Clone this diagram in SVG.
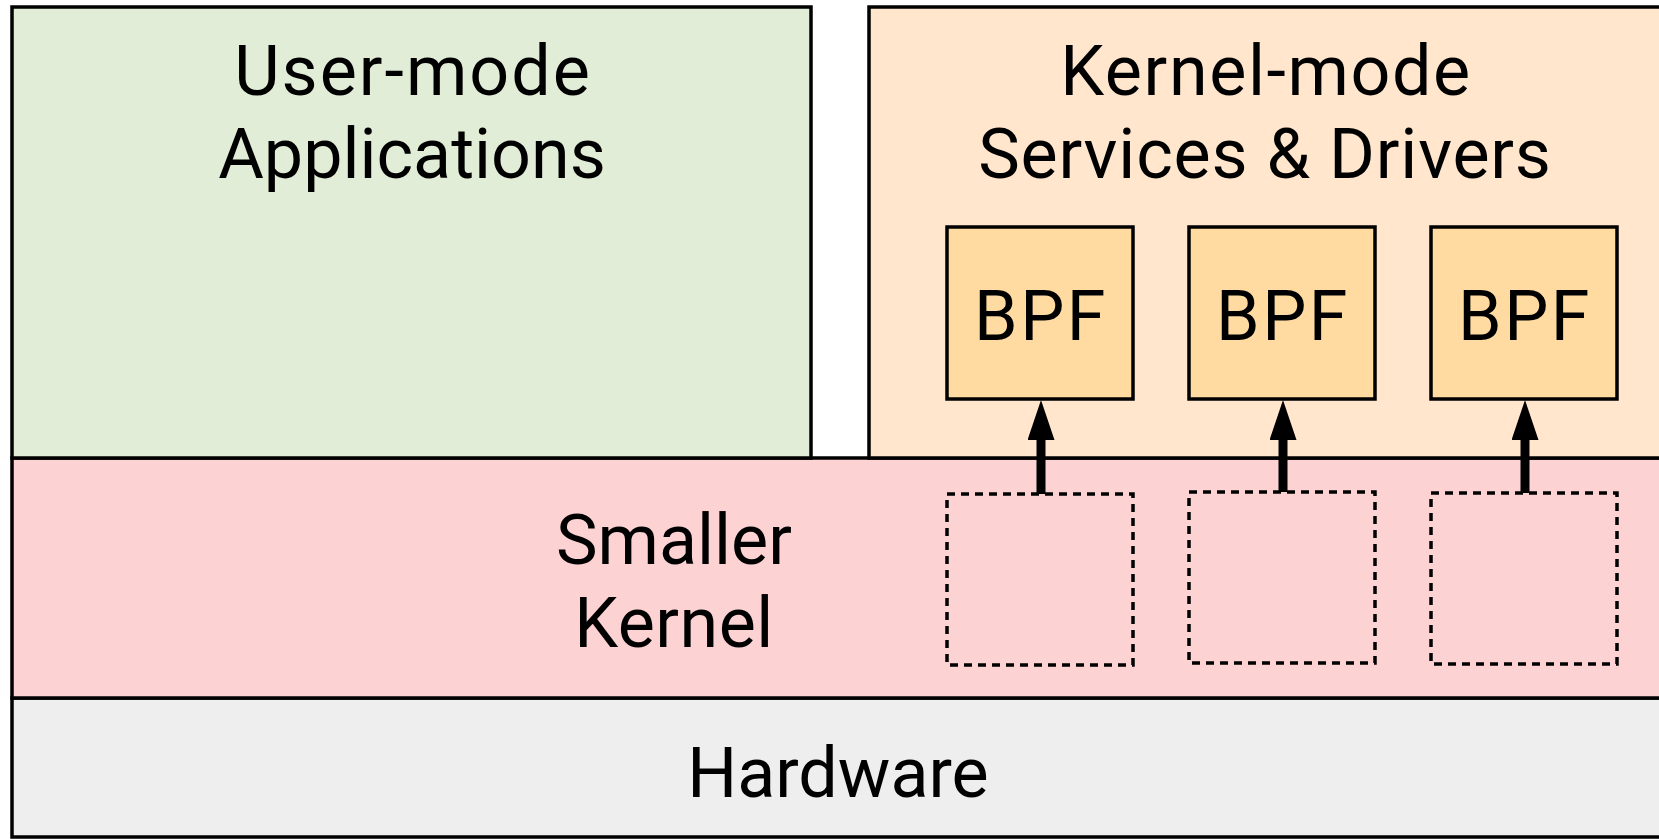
<svg xmlns="http://www.w3.org/2000/svg" width="1659" height="839" viewBox="0 0 1659 839">
  <style>
    .box { stroke: #000; stroke-width: 3.5; }
    .label { font-family: Roboto, "Liberation Sans", sans-serif; font-size: 70px; fill: #000; text-anchor: middle; }
    .slot { fill: none; stroke: #000; stroke-width: 3.5; stroke-dasharray: 8 6; }
    .link { stroke: #000; stroke-width: 9; fill: none; }
  </style>
  <defs>
    <!-- arrowhead drawn along +x, starting where the shaft ends -->
    <marker id="head" viewBox="0 0 40 27" refX="0" refY="13.5" markerWidth="40" markerHeight="27" markerUnits="userSpaceOnUse" orient="auto">
      <path d="M0,0 L40,13.5 L0,27 Z" fill="#000"/>
    </marker>
  </defs>
  <rect width="1659" height="839" fill="#fff"/>

  <g id="hardware">
    <rect class="box" x="12" y="698" width="1660" height="139" fill="#eeeeee"/>
    <text class="label" x="838" y="797">Hardware</text>
  </g>

  <g id="kernel">
    <rect class="box" x="12" y="458" width="1660" height="240" fill="#fcd2d3"/>
    <text class="label" x="674" y="564">Smaller</text>
    <text class="label" x="674" y="647" letter-spacing="0.5">Kernel</text>
  </g>

  <g id="user-mode">
    <rect class="box" x="12" y="7" width="799" height="451" fill="#e1edd6"/>
    <text class="label" x="413" y="95" letter-spacing="2">User-mode</text>
    <text class="label" x="412" y="178">Applications</text>
  </g>

  <g id="kernel-mode">
    <rect class="box" x="869" y="7" width="803" height="451" fill="#ffe6cd"/>
    <text class="label" x="1266" y="95" letter-spacing="1.6">Kernel-mode</text>
    <text class="label" x="1265" y="178" letter-spacing="0.8">Services &amp; Drivers</text>
  </g>

  <g id="bpf-1">
    <rect class="box" x="947" y="227" width="186" height="172" fill="#ffdba2"/>
    <text class="label" x="1041" y="340" letter-spacing="2.5">BPF</text>
  </g>
  <g id="bpf-2">
    <rect class="box" x="1189" y="227" width="186" height="172" fill="#ffdba2"/>
    <text class="label" x="1283" y="340" letter-spacing="2.5">BPF</text>
  </g>
  <g id="bpf-3">
    <rect class="box" x="1431" y="227" width="186" height="172" fill="#ffdba2"/>
    <text class="label" x="1525" y="340" letter-spacing="2.5">BPF</text>
  </g>

  <g id="hook-1"><rect class="slot" x="947" y="494" width="186" height="171"/></g>
  <g id="hook-2"><rect class="slot" x="1189" y="492" width="186" height="171"/></g>
  <g id="hook-3"><rect class="slot" x="1431" y="493" width="186" height="171"/></g>

  <g id="connectors">
    <line class="link" x1="1041" y1="494" x2="1041" y2="440" marker-end="url(#head)"/>
    <line class="link" x1="1283" y1="492" x2="1283" y2="440" marker-end="url(#head)"/>
    <line class="link" x1="1525" y1="493" x2="1525" y2="440" marker-end="url(#head)"/>
  </g>
</svg>
